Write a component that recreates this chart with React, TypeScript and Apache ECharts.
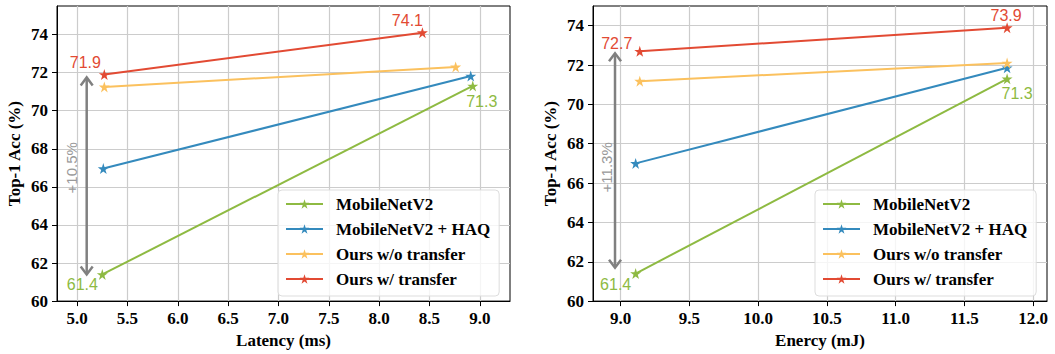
import React, { useEffect, useRef } from "react";
import * as echarts from "echarts";

// ---------- data ----------
const seriesNames = ["MobileNetV2", "MobileNetV2 + HAQ", "Ours w/o transfer", "Ours w/ transfer"];

const latMobileNetV2 = [[5.25, 61.4], [8.93, 71.3]];
const latHAQ = [[5.26, 66.96], [8.91, 71.82]];
const latOursWo = [[5.27, 71.25], [8.76, 72.3]];
const latOursW = [[5.27, 71.9], [8.43, 74.1]];

const engMobileNetV2 = [[9.11, 61.4], [11.81, 71.3]];
const engHAQ = [[9.11, 67.0], [11.81, 71.86]];
const engOursWo = [[9.14, 71.18], [11.81, 72.1]];
const engOursW = [[9.14, 72.7], [11.81, 73.9]];

const latencyTicks = [5.0, 5.5, 6.0, 6.5, 7.0, 7.5, 8.0, 8.5, 9.0];
const energyTicks = [9.0, 9.5, 10.0, 10.5, 11.0, 11.5, 12.0];
const accTicks = [60, 62, 64, 66, 68, 70, 72, 74];

// arrow: [x, yLow, yHigh]
const latencyArrow = [5.095, 61.4, 71.75];
const energyArrow = [8.96, 61.7, 72.6];
// gain text position [x, y]
const latencyGainPos = [4.947, 67.0];
const energyGainPos = [8.896, 66.8];
const latencyGainText = "+10.5%";
const energyGainText = "+11.3%";

// ---------- styles ----------
const COLORS = ["#8EBA42", "#348ABD", "#FBC15E", "#E24A33"];
const STAR = "path://M50,0L61.2,34.5L97.6,34.5L68.2,55.9L79.4,90.5L50,69.1L20.6,90.5L31.8,55.9L2.4,34.5L38.8,34.5Z";
const SERIF = "Liberation Serif";
const SANS = "Liberation Sans";

// label offsets per [seriesIndex][pointIndex]
const latLabelOffsets: Record<string, number[]> = {
  "0-0": [-20, 10],
  "0-1": [9, 16],
  "3-0": [-19, -12],
  "3-1": [-15, -12],
};
const engLabelOffsets: Record<string, number[]> = {
  "0-0": [-20, 11],
  "0-1": [10, 15],
  "3-0": [-23, -8],
  "3-1": [-1, -12],
};

function buildSeries(datasets: number[][][], axisIndex: number, offsets: Record<string, number[]>) {
  return datasets.map((d, si) => ({
    type: "line",
    name: seriesNames[si],
    xAxisIndex: axisIndex,
    yAxisIndex: axisIndex,
    color: COLORS[si],
    symbol: STAR,
    symbolSize: 11,
    lineStyle: { width: 2, color: COLORS[si] },
    itemStyle: { color: COLORS[si] },
    z: 3 + si,
    data: d.map((p, pi) => {
      const off = offsets[`${si}-${pi}`];
      return off
        ? {
            value: p,
            label: {
              show: true,
              position: "inside",
              offset: off,
              formatter: () => p[1].toFixed(1),
              color: COLORS[si],
              fontFamily: SANS,
              fontSize: 16,
            },
          }
        : { value: p };
    }),
  }));
}

function arrowSeries(axisIndex: number, arrow: number[], gainPos: number[], gainText: string) {
  return {
    type: "custom",
    xAxisIndex: axisIndex,
    yAxisIndex: axisIndex,
    silent: true,
    z: 2,
    data: [[arrow[0], arrow[1], arrow[2], gainPos[0], gainPos[1]]],
    renderItem: (params: any, api: any) => {
      const top = api.coord([api.value(0), api.value(2)]);
      const bot = api.coord([api.value(0), api.value(1)]);
      const tp = api.coord([api.value(3), api.value(4)]);
      const w = 6;
      const h = 8;
      const stroke = "#808080";
      return {
        type: "group",
        children: [
          {
            type: "line",
            shape: { x1: top[0], y1: top[1] + 1, x2: bot[0], y2: bot[1] - 1 },
            style: { stroke, lineWidth: 2.5 },
          },
          {
            type: "polyline",
            shape: { points: [[top[0] - w, top[1] + h], [top[0], top[1]], [top[0] + w, top[1] + h]] },
            style: { stroke, lineWidth: 2.5, fill: null },
          },
          {
            type: "polyline",
            shape: { points: [[bot[0] - w, bot[1] - h], [bot[0], bot[1]], [bot[0] + w, bot[1] - h]] },
            style: { stroke, lineWidth: 2.5, fill: null },
          },
          {
            type: "text",
            x: tp[0],
            y: tp[1],
            rotation: Math.PI / 2,
            style: {
              text: gainText,
              fill: "#999999",
              fontFamily: SANS,
              fontSize: 15,
              align: "center",
              verticalAlign: "middle",
            },
          },
        ],
      };
    },
  };
}

const tickFont = { fontFamily: SERIF, fontWeight: "bold" as const, fontSize: 17, color: "#000" };

function xAxis(gridIndex: number, min: number, max: number, ticks: number[], name: string) {
  return {
    type: "value",
    gridIndex,
    min,
    max,
    name,
    nameLocation: "middle",
    nameGap: 30,
    nameTextStyle: tickFont,
    axisLine: { show: true, lineStyle: { color: "#000", width: 1 } },
    axisTick: { show: true, length: 5, lineStyle: { color: "#000" }, customValues: ticks },
    axisLabel: { ...tickFont, margin: 9, customValues: ticks, formatter: (v: number) => v.toFixed(1) },
    splitLine: { show: true, lineStyle: { color: "#cccccc", width: 1.2 } },
  };
}

function yAxis(gridIndex: number, min: number, max: number, ticks: number[]) {
  return {
    type: "value",
    gridIndex,
    min,
    max,
    name: "Top-1 Acc (%)",
    nameLocation: "middle",
    nameGap: 34,
    nameTextStyle: tickFont,
    axisLine: { show: true, lineStyle: { color: "#000", width: 1 } },
    axisTick: { show: true, length: 5, lineStyle: { color: "#000" }, customValues: ticks },
    axisLabel: { ...tickFont, margin: 9, customValues: ticks, formatter: (v: number) => String(v) },
    splitLine: { show: true, lineStyle: { color: "#cccccc", width: 1.2 } },
  };
}

function legend(left: number) {
  return {
    left,
    top: 190,
    orient: "vertical",
    data: seriesNames,
    itemWidth: 37,
    itemHeight: 12,
    itemGap: 7,
    padding: [5, 9, 8, 7],
    borderColor: "#dddddd",
    borderWidth: 1,
    borderRadius: 4,
    backgroundColor: "rgba(255,255,255,0.8)",
    selectedMode: false,
    textStyle: { ...tickFont, lineHeight: 18, padding: [0, 0, 0, 8] },
  };
}

export default function App() {
  const ref = useRef<HTMLDivElement>(null);
  useEffect(() => {
    if (!ref.current) return;
    const chart = echarts.init(ref.current, undefined, { renderer: "svg" });
    const option: any = {
      animation: false,
      backgroundColor: "#ffffff",
      grid: [
        { left: 57, top: 6, width: 453, height: 299, show: true, borderColor: "#000", borderWidth: 1, backgroundColor: "transparent" },
        { left: 593, top: 6, width: 454, height: 299, show: true, borderColor: "#000", borderWidth: 1, backgroundColor: "transparent" },
      ],
      xAxis: [
        xAxis(0, 4.8, 9.3, latencyTicks, "Latency (ms)"),
        xAxis(1, 8.8, 12.1, energyTicks, "Enercy (mJ)"),
      ],
      yAxis: [yAxis(0, 60, 75.5, accTicks), yAxis(1, 60, 75, accTicks)],
      legend: [legend(278), legend(815)],
      series: [
        ...buildSeries([latMobileNetV2, latHAQ, latOursWo, latOursW], 0, latLabelOffsets),
        ...buildSeries([engMobileNetV2, engHAQ, engOursWo, engOursW], 1, engLabelOffsets),
        arrowSeries(0, latencyArrow, latencyGainPos, latencyGainText),
        arrowSeries(1, energyArrow, energyGainPos, energyGainText),
      ],
    };
    chart.setOption(option);
    return () => chart.dispose();
  }, []);
  return <div ref={ref} style={{ position: "fixed", left: 0, top: 0, width: 1055, height: 354 }} />;
}
